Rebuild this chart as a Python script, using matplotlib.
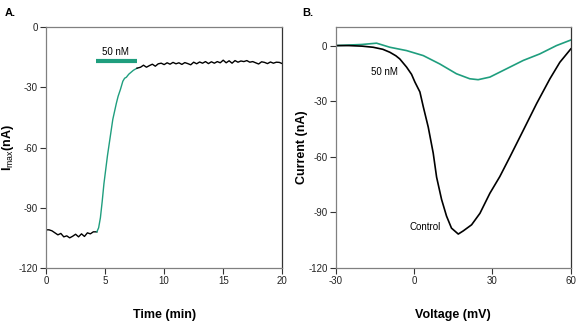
import matplotlib
matplotlib.use("Agg")
import matplotlib.pyplot as plt

plt.rcParams['font.family'] = ['Liberation Sans', 'DejaVu Sans']
plt.rcParams['mathtext.fontset'] = 'custom'
plt.rcParams['mathtext.rm'] = 'Liberation Sans'
plt.rcParams['mathtext.bf'] = 'Liberation Sans:bold'
plt.rcParams['axes.unicode_minus'] = False

GREEN = '#1f9e7e'

# panel A: Imax over time
t_before = [0, 0.25, 0.5, 0.75, 1.0, 1.25, 1.5, 1.75, 2.0, 2.25, 2.5, 2.75, 3.0,
            3.25, 3.5, 3.75, 4.0, 4.3]
i_before = [-101, -101, -101.5, -102.5, -103.5, -102.8, -104.5, -104, -105, -104.2,
            -103.2, -104.5, -103, -104.3, -102.5, -103, -102, -102]
t_drug = [4.3, 4.45, 4.6, 4.75, 4.9, 5.05, 5.2, 5.35, 5.5, 5.65, 5.8, 5.95, 6.1,
          6.3, 6.5, 6.65, 6.8, 7.0, 7.2, 7.4, 7.7]
i_drug = [-102, -100, -95, -87, -78, -71, -64, -58, -52, -46, -42, -38, -34.5,
          -31, -27, -25.5, -25, -23.5, -22.5, -21.5, -20.5]
t_after = [7.7, 8.0, 8.25, 8.5, 8.75, 9.0, 9.25, 9.5, 9.75, 10.0, 10.25, 10.5, 10.75,
           11.0, 11.25, 11.5, 11.75, 12.0, 12.25, 12.5, 12.75, 13.0, 13.25, 13.5,
           13.75, 14.0, 14.25, 14.5, 14.75, 15.0, 15.25, 15.5, 15.75, 16.0, 16.25,
           16.5, 16.75, 17.0, 17.25, 17.5, 17.75, 18.0, 18.25, 18.5, 18.75, 19.0,
           19.25, 19.5, 19.75, 20.0]
i_after = [-20.5, -20, -19, -20, -19.2, -18.5, -19.5, -18.3, -18, -18.7, -17.8, -18.5,
           -17.6, -18.3, -17.8, -18.6, -17.7, -18.2, -18.8, -17.5, -18.3, -17.4, -18,
           -17.2, -18.2, -17.3, -18, -17.2, -17.8, -16.5, -17.8, -16.8, -18, -16.7,
           -17.5, -16.9, -17.2, -16.7, -17.5, -17.2, -17.8, -18.4, -17.3, -17.6,
           -18.2, -17.4, -18, -17.5, -17.6, -18.2]
bar_span = [4.2, 7.7]
bar_level = -16.8

# panel B: current-voltage curves
v_control = [-30, -25, -20, -15.7, -12, -9.3, -7, -5.5, -2.9, -1, 0.3, 2.2, 3.5, 5.4,
             7.3, 8.6, 10.5, 12.4, 14.3, 16.9, 18.8, 22, 25.2, 29, 32.8, 36.7, 41.8,
             46.9, 52, 55.8, 60]
i_control = [0, 0, -0.3, -0.9, -2, -3.6, -5.5, -7.2, -11.6, -15.5, -19.7, -25, -33,
             -44, -58, -71, -83, -92, -98.5, -101.7, -100, -96.7, -90.5, -79.7, -70.7,
             -60, -45.7, -31.3, -17.9, -9, -1.8]
v_50nm = [-30, -25, -20, -14.4, -9.3, -2.9, 3.5, 9.8, 16.2, 21.3, 24.5, 29, 35.4,
          41.8, 48.1, 54.5, 60]
i_50nm = [0, 0.3, 0.6, 1.3, -0.9, -2.7, -5.4, -9.9, -15.2, -17.9, -18.4, -17,
          -12.5, -8, -4.5, 0, 3]

fig = plt.figure(figsize=(5.76, 3.26), dpi=100)
axA = fig.add_axes([0.080, 0.178, 0.410, 0.739])
axB = fig.add_axes([0.583, 0.178, 0.408, 0.739])

for ax in (axA, axB):
    for side in ('top', 'bottom', 'left'):
        ax.spines[side].set_color('#808080')
    ax.spines['right'].set_color('#333333')
    for s in ax.spines.values():
        s.set_linewidth(0.9)
    ax.tick_params(direction='out', length=4, width=0.8, color='#333333',
                   labelsize=7, labelcolor='#222222', pad=2)

axA.plot(t_before, i_before, color='black', lw=1.0)
axA.plot(t_drug, i_drug, color=GREEN, lw=1.0)
axA.plot(t_after, i_after, color='black', lw=1.0)
axA.plot(bar_span, [bar_level, bar_level], color=GREEN, lw=3, solid_capstyle='butt')
axA.text(5.85, -12.3, '50 nM', fontsize=7, ha='center', va='center')
axA.set_xlim(0, 20)
axA.set_ylim(-120, 0)
axA.set_xticks([0, 5, 10, 15, 20])
axA.set_yticks([0, -30, -60, -90, -120])
axA.set_xlabel('Time (min)', fontsize=9, fontweight='bold', labelpad=16)
axA.set_ylabel(r'I$_{\mathrm{max}}$(nA)', fontsize=9, fontweight='bold', va='center')
axA.yaxis.set_label_coords(-0.161, 0.5)

axB.plot(v_50nm, i_50nm, color=GREEN, lw=1.2)
axB.plot(v_control, i_control, color='black', lw=1.2)
axB.text(-11.2, -14.4, '50 nM', fontsize=7, ha='center', va='center')
axB.text(4.1, -97.8, 'Control', fontsize=7, ha='center', va='center')
axB.set_xlim(-30, 60)
axB.set_ylim(-120, 10)
axB.set_xticks([-30, 0, 30, 60])
axB.set_yticks([0, -30, -60, -90, -120])
axB.set_xlabel('Voltage (mV)', fontsize=9, fontweight='bold', labelpad=16)
axB.set_ylabel('Current (nA)', fontsize=9, fontweight='bold', va='center')
axB.yaxis.set_label_coords(-0.142, 0.5)

fig.text(0.009, 0.975, 'A.', fontsize=8, fontweight='bold', va='top')
fig.text(0.524, 0.975, 'B.', fontsize=8, fontweight='bold', va='top')

fig.savefig('out.png', dpi=100)
